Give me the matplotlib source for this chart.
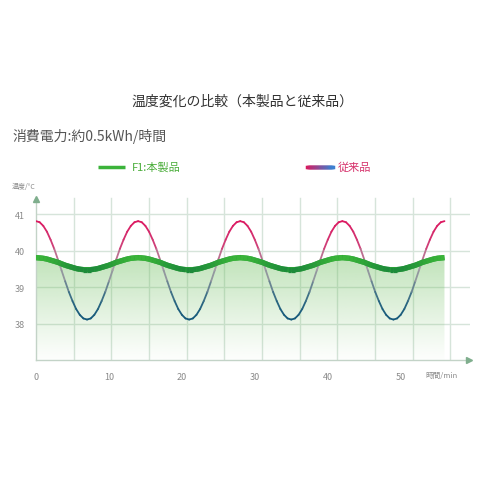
import numpy as np
import matplotlib
matplotlib.use('Agg')
import matplotlib.pyplot as plt
from matplotlib.collections import LineCollection
from matplotlib.colors import LinearSegmentedColormap, Normalize, to_rgb
from matplotlib.patches import PathPatch

plt.rcParams['font.family'] = ['Noto Sans CJK JP', 'DejaVu Sans']

# ---- data (every 0.5 min) ----
time_min = np.arange(0, 56.5, 0.5)

conventional_temp = [
    40.81, 40.78, 40.68, 40.52, 40.30, 40.05, 39.76, 39.46, 39.16, 38.87, 38.62, 38.40, 38.24, 38.14,
    38.11, 38.14, 38.24, 38.40, 38.62, 38.87, 39.16, 39.46, 39.76, 40.05, 40.30, 40.52, 40.68, 40.78,
    40.81, 40.78, 40.68, 40.52, 40.30, 40.05, 39.76, 39.46, 39.16, 38.87, 38.62, 38.40, 38.24, 38.14,
    38.11, 38.14, 38.24, 38.40, 38.62, 38.87, 39.16, 39.46, 39.76, 40.05, 40.30, 40.52, 40.68, 40.78,
    40.81, 40.78, 40.68, 40.52, 40.30, 40.05, 39.76, 39.46, 39.16, 38.87, 38.62, 38.40, 38.24, 38.14,
    38.11, 38.14, 38.24, 38.40, 38.62, 38.87, 39.16, 39.46, 39.76, 40.05, 40.30, 40.52, 40.68, 40.78,
    40.81, 40.78, 40.68, 40.52, 40.30, 40.05, 39.76, 39.46, 39.16, 38.87, 38.62, 38.40, 38.24, 38.14,
    38.11, 38.14, 38.24, 38.40, 38.62, 38.87, 39.16, 39.46, 39.76, 40.05, 40.30, 40.52, 40.68, 40.78,
    40.81,
]

product_temp = [
    39.81, 39.80, 39.79, 39.77, 39.74, 39.71, 39.68, 39.64, 39.60, 39.57, 39.54, 39.51, 39.49, 39.48,
    39.48, 39.48, 39.49, 39.51, 39.54, 39.57, 39.60, 39.64, 39.68, 39.71, 39.74, 39.77, 39.79, 39.80,
    39.81, 39.80, 39.79, 39.77, 39.74, 39.71, 39.68, 39.64, 39.60, 39.57, 39.54, 39.51, 39.49, 39.48,
    39.48, 39.48, 39.49, 39.51, 39.54, 39.57, 39.60, 39.64, 39.68, 39.71, 39.74, 39.77, 39.79, 39.80,
    39.81, 39.80, 39.79, 39.77, 39.74, 39.71, 39.68, 39.64, 39.60, 39.57, 39.54, 39.51, 39.49, 39.48,
    39.48, 39.48, 39.49, 39.51, 39.54, 39.57, 39.60, 39.64, 39.68, 39.71, 39.74, 39.77, 39.79, 39.80,
    39.81, 39.80, 39.79, 39.77, 39.74, 39.71, 39.68, 39.64, 39.60, 39.57, 39.54, 39.51, 39.49, 39.48,
    39.48, 39.48, 39.49, 39.51, 39.54, 39.57, 39.60, 39.64, 39.68, 39.71, 39.74, 39.77, 39.79, 39.80,
    39.81,
]

x_ticks = [0, 10, 20, 30, 40, 50]
y_ticks = [38, 39, 40, 41]

title = '温度変化の比較（本製品と従来品）'
subtitle = '消費電力:約0.5kWh/時間'
label_product = 'F1:本製品'
label_conv = '従来品'

# ---- colours ----
grid_col = '#d6e4da'
axis_col = '#c3d3c7'
arrow_col = '#7fae8d'
red_cmap = LinearSegmentedColormap.from_list(
    'conv', [(0.0, '#13587a'), (0.2, '#2f6982'), (0.42, '#8e959c'), (0.58, '#a8a0a8'),
             (0.75, '#cf3f78'), (1.0, '#dc1760')])
green_cmap = LinearSegmentedColormap.from_list('prod', ['#1d8a3a', '#3ab539'])


def segments(x, y):
    pts = np.column_stack([x, y]).reshape(-1, 1, 2)
    return np.concatenate([pts[:-1], pts[1:]], axis=1)


fig = plt.figure(figsize=(4.85, 4.85), dpi=100)
ax = fig.add_axes([36 / 485, 124 / 485, 434 / 485, 164 / 485])
ax.set_facecolor('none')
for s in ax.spines.values():
    s.set_visible(False)

# grid
for gx in np.arange(1, 12) * 5.165:
    ax.plot([gx, gx], [37, 41.45], color=grid_col, lw=1, zorder=0)
for gy in y_ticks:
    ax.plot([0, 59.5], [gy, gy], color=grid_col, lw=1, zorder=0)

# green gradient fill under product line
fill = ax.fill_between(time_min, product_temp, 37, facecolor='none', edgecolor='none')
clip = PathPatch(fill.get_paths()[0], transform=ax.transData, facecolor='none', edgecolor='none')
ax.add_patch(clip)
grad = np.zeros((256, 1, 4))
grad[:, 0, :3] = to_rgb('#72c063')
grad[:, 0, 3] = np.linspace(0.02, 0.48, 256) ** 1.1
im = ax.imshow(grad, extent=[0, 56, 37, 39.85], origin='lower', aspect='auto', zorder=1)
im.set_clip_path(clip)

# conventional product line (colour by temperature)
segs = segments(time_min, conventional_temp)
mid = (np.array(conventional_temp[:-1]) + np.array(conventional_temp[1:])) / 2
lc = LineCollection(segs, cmap=red_cmap, norm=Normalize(38.11, 40.81), linewidths=1.3,
                    capstyle='round', zorder=3)
lc.set_array(mid)
ax.add_collection(lc)

# F1 line: solid base then shaded overlay
ax.plot(time_min, product_temp, color='#2aa236', lw=3.8, solid_capstyle='butt', zorder=4)
segs = segments(time_min, product_temp)
mid = (np.array(product_temp[:-1]) + np.array(product_temp[1:])) / 2
lc2 = LineCollection(segs, cmap=green_cmap, norm=Normalize(39.48, 39.81), linewidths=3.8,
                     capstyle='butt', zorder=5)
lc2.set_array(mid)
ax.add_collection(lc2)

# axes lines with arrows
ax.plot([0, 0], [37, 41.4], color=axis_col, lw=1, zorder=2, clip_on=False)
ax.plot([0, 59.0], [37, 37], color=axis_col, lw=1, zorder=2, clip_on=False)
ax.plot([0], [41.43], marker='^', ms=4, color=arrow_col, clip_on=False, zorder=6)
ax.plot([59.3], [37], marker='>', ms=4, color=arrow_col, clip_on=False, zorder=6)

ax.set_xlim(0, 59.5)
ax.set_ylim(37, 41.5)
ax.set_xticks(x_ticks)
ax.set_xticklabels([str(v) for v in x_ticks])
ax.set_yticks(y_ticks)
ax.set_yticklabels([str(v) for v in y_ticks])
ax.tick_params(length=0, labelsize=6.5, colors='#8a8a8a')
ax.tick_params(axis='x', pad=9)
ax.tick_params(axis='y', pad=8)

# texts
fig.text(0.5, 1 - 102 / 485, title, ha='center', va='center', fontsize=10, color='#333333')
fig.text(12 / 485, 1 - 137 / 485, subtitle, ha='left', va='center', fontsize=10, color='#555555')
fig.text(12 / 485, 1 - 187 / 485, '温度/°C', ha='left', va='center', fontsize=5, color='#8a8a8a')
fig.text(425 / 485, 1 - 376 / 485, '時間/min', ha='left', va='center', fontsize=5.5, color='#8a8a8a')

# legend
ly = 1 - 168 / 485
fig.add_artist(plt.Line2D([98 / 485, 125 / 485], [ly, ly], color='#3bb33a', lw=2.5,
                          solid_capstyle='butt', transform=fig.transFigure))
fig.text(132 / 485, ly, label_product, ha='left', va='center', fontsize=8, color='#4cae3c')
n_leg = 30
lx = np.linspace(307 / 485, 333 / 485, n_leg)
leg_segs = segments(lx, np.full(n_leg, ly))
leg_lc = LineCollection(leg_segs, cmap=LinearSegmentedColormap.from_list('l', ['#d81b60', '#3d7fd0']),
                        linewidths=2.5, capstyle='projecting', transform=fig.transFigure)
leg_lc.set_array(np.linspace(0, 1, n_leg - 1))
fig.add_artist(leg_lc)
fig.text(338 / 485, ly, label_conv, ha='left', va='center', fontsize=8, color='#d6336c')

fig.savefig('out.png', dpi=100)
